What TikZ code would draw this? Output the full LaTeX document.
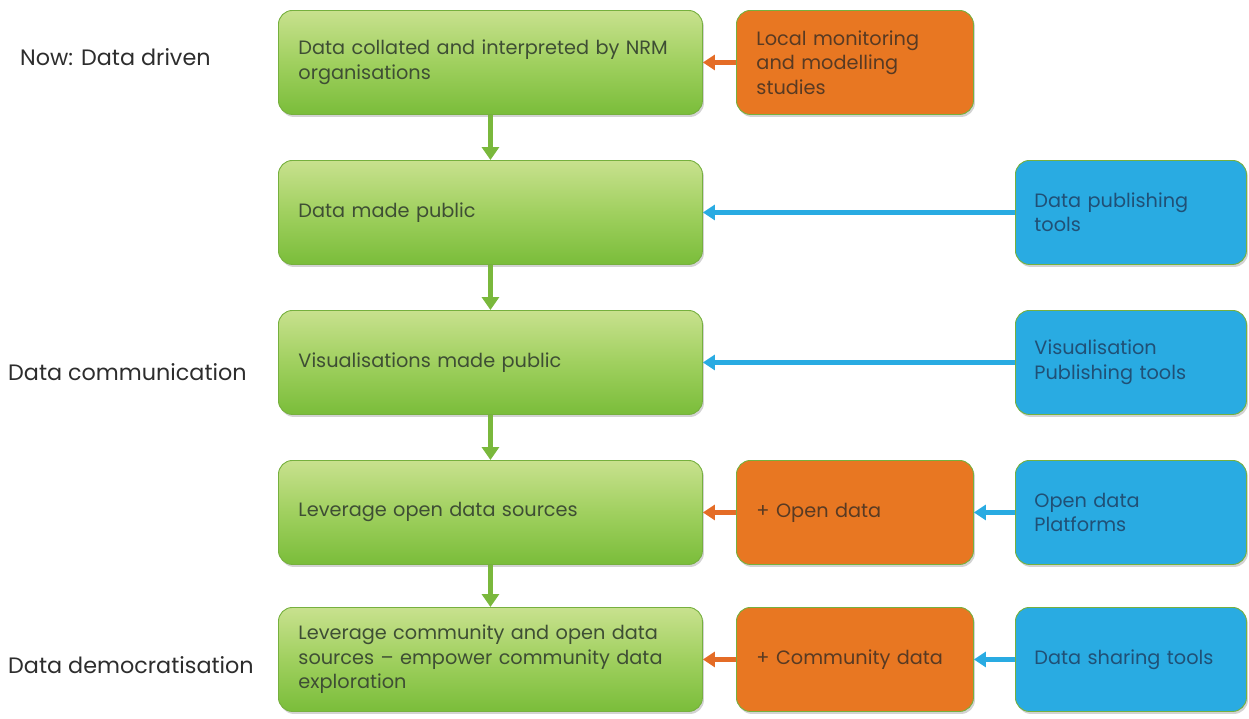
\documentclass[tikz,border=0pt]{standalone}
\usepackage{fontspec}
\setmainfont{Poppins}
\usetikzlibrary{shadows,arrows.meta}
\definecolor{gtop}{RGB}{200,225,142}
\definecolor{gmid}{RGB}{160,208,95}
\definecolor{gbot}{RGB}{122,189,58}
\definecolor{gborder}{RGB}{118,176,62}
\definecolor{orfill}{RGB}{232,119,34}
\definecolor{blfill}{RGB}{41,171,226}
\definecolor{gtext}{RGB}{62,78,52}
\definecolor{otext}{RGB}{88,58,35}
\definecolor{btext}{RGB}{32,80,118}
\definecolor{garrowc}{RGB}{122,184,60}
\definecolor{oarrowc}{RGB}{228,108,38}
\definecolor{barrowc}{RGB}{41,171,226}
\definecolor{ltext}{RGB}{45,45,45}
\begin{document}
\begin{tikzpicture}[x=1pt,y=-1pt,
  basebox/.style={rounded corners=14pt, draw=gborder, line width=0.9pt, anchor=north west,
    inner xsep=20pt, inner ysep=0pt, align=left,
    font=\fontsize{19.3}{24.5}\selectfont,
    drop shadow={shadow xshift=1.5pt, shadow yshift=-2.5pt, opacity=0.35, fill=gray}},
  greenbox/.style={basebox, top color=gtop, bottom color=gbot, middle color=gmid,
    text=gtext, text width=384pt, minimum height=104pt},
  orbox/.style={basebox, fill=orfill, text=otext, text width=197pt, minimum height=104pt},
  blbox/.style={basebox, fill=blfill, text=btext, text width=193pt, inner xsep=19pt, minimum height=104pt},
  lbl/.style={anchor=west, text=ltext, font=\fontsize{22.3}{26}\selectfont, inner sep=0pt},
  garrow/.style={draw=garrowc, line width=4.5pt, -{Triangle[width=17pt,length=13pt]}},
  oarrow/.style={draw=oarrowc, line width=4.5pt, -{Triangle[width=15pt,length=12pt]}},
  barrow/.style={draw=barrowc, line width=4.5pt, -{Triangle[width=15pt,length=12pt]}},
]
\useasboundingbox (0,0) rectangle (1249,718);

% left labels
\node[lbl] (l1) at (20,57) {Now: Data driven};
\node[lbl] (l2) at (8,372) {Data communication};
\node[lbl] (l3) at (8,665) {Data democratisation};

% green column
\node[greenbox] (g1) at (278,10) {Data collated and interpreted by NRM\\organisations};
\node[greenbox] (g2) at (278,160) {Data made public};
\node[greenbox] (g3) at (278,310) {Visualisations made public};
\node[greenbox] (g4) at (278,460) {Leverage open data sources};
\node[greenbox] (g5) at (278,607) {Leverage community and open data\\sources -- empower community data\\exploration};

% orange column
\node[orbox] (o1) at (736,10) {Local monitoring\\and modelling\\studies};
\node[orbox] (o4) at (736,460) {+ Open data};
\node[orbox] (o5) at (736,607) {+ Community data};

% blue column
\node[blbox] (b2) at (1015,160) {Data publishing\\tools};
\node[blbox] (b3) at (1015,310) {Visualisation\\Publishing tools};
\node[blbox] (b4) at (1015,460) {Open data\\Platforms};
\node[blbox] (b5) at (1015,607) {Data sharing tools};

% green arrows
\draw[garrow] (g1.south) -- (g2.north);
\draw[garrow] (g2.south) -- (g3.north);
\draw[garrow] (g3.south) -- (g4.north);
\draw[garrow] (g4.south) -- (g5.north);

% orange arrows
\draw[oarrow] (o1.west) -- (g1.east);
\draw[oarrow] (o4.west) -- (g4.east);
\draw[oarrow] (o5.west) -- (g5.east);

% blue arrows
\draw[barrow] (b2.west) -- (g2.east);
\draw[barrow] (b3.west) -- (g3.east);
\draw[barrow] (b4.west) -- (o4.east);
\draw[barrow] (b5.west) -- (o5.east);
\end{tikzpicture}
\end{document}
